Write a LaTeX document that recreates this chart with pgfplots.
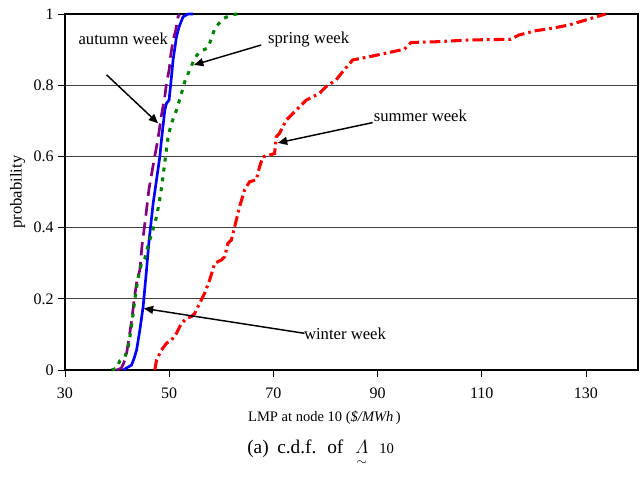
\documentclass[border=0pt]{standalone}
\usepackage{amsmath}
\usepackage{fontspec}
\setmainfont{Liberation Serif}
\usepackage{pgfplots}
\pgfplotsset{compat=1.18}
\usetikzlibrary{arrows.meta}

\definecolor{winterc}{RGB}{0,0,255}
\definecolor{autumnc}{RGB}{128,0,128}
\definecolor{springc}{RGB}{0,128,0}
\definecolor{summerc}{RGB}{255,0,0}

\begin{document}
\begin{tikzpicture}[font=\fontsize{12}{14}\selectfont,
  note/.style={-{Triangle[length=7pt,width=6pt]}, line width=1.1pt, black},
  lab/.style={font=\fontsize{12.5}{15}\selectfont}]
\begin{axis}[
    scale only axis,
    width=429.75pt, height=267pt,
    xmin=30, xmax=140, ymin=0, ymax=1,
    xtick={30,50,70,90,110,130},
    ytick={0,0.2,0.4,0.6,0.8,1},
    tick pos=left, tick align=outside,
    major tick length=5pt,
    tick style={black, line width=0.6pt},
    ymajorgrids, grid style={black!75, line width=0.6pt},
    axis line style={black, line width=1.3pt},
    /pgf/number format/assume math mode=true,
    xticklabel style={yshift=-5pt},
    clip=false,
]
\coordinate (sw) at (rel axis cs:0,0);
\coordinate (ne) at (rel axis cs:1,1);

% winter week
\addplot[winterc, line width=2pt] coordinates {
 (41.17,0) (42.78,0.014) (43.28,0.033) (43.74,0.056) (44.37,0.112)
 (45.0,0.178) (45.65,0.281) (46.15,0.365) (46.92,0.468) (47.57,0.534)
 (48.2,0.599) (48.52,0.646) (49.16,0.73) (49.48,0.749) (49.98,0.758)
 (50.44,0.824) (50.75,0.871) (51.4,0.936) (51.9,0.964) (52.66,0.992)
 (53.62,1.0) (54.58,1.0)};

% autumn week
\addplot[autumnc, line width=2pt, dash pattern=on 10pt off 5pt] coordinates {
 (39.9,0) (40.8,0.005) (41.3,0.02) (41.8,0.045) (42.3,0.09) (42.8,0.14)
 (43.3,0.2) (43.8,0.25) (44.37,0.281) (44.8,0.351) (45.46,0.426)
 (46.1,0.506) (46.6,0.548) (47.1,0.59) (47.87,0.651) (48.52,0.716)
 (49.16,0.768) (49.48,0.805) (50.0,0.843) (50.25,0.88) (50.75,0.927)
 (51.26,0.955) (51.7,0.992) (52.03,1.0)};

% spring week
\addplot[springc, line width=2.3pt, dash pattern=on 3pt off 4.5pt] coordinates {
 (38.95,0) (39.9,0.005) (40.54,0.026) (41.5,0.037) (42.13,0.065)
 (42.78,0.122) (43.41,0.2) (44.04,0.26) (44.7,0.3) (45.33,0.314)
 (45.96,0.351) (46.72,0.386) (47.38,0.419) (48.0,0.463) (48.39,0.498)
 (48.83,0.545) (49.3,0.6) (49.79,0.655) (50.44,0.693) (51.4,0.73)
 (52.36,0.777) (52.99,0.81) (53.95,0.843) (54.9,0.876) (55.86,0.894)
 (57.45,0.905) (58.1,0.931) (58.74,0.959) (60.33,0.987) (62.24,0.999)
 (63.52,1.0)};

% summer week
\addplot[summerc, line width=2.3pt, dash pattern=on 8pt off 3pt on 2pt off 3pt] coordinates {
 (47.24,0) (47.57,0.028) (48.52,0.056) (49.48,0.075) (50.44,0.084)
 (51.4,0.103) (52.36,0.131) (53.32,0.145) (54.27,0.15) (54.9,0.159)
 (55.86,0.188) (56.82,0.216) (57.78,0.253) (58.74,0.3) (60.02,0.309)
 (60.65,0.318) (61.28,0.356) (61.93,0.365) (62.89,0.421) (63.52,0.459)
 (64.48,0.506) (65.44,0.529) (66.72,0.534) (67.36,0.571) (67.99,0.599)
 (69.27,0.604) (70.23,0.608) (70.56,0.655) (71.19,0.665) (72.47,0.702)
 (73.1,0.711) (74.39,0.73) (76.3,0.758) (78.85,0.777) (80.13,0.796)
 (82.05,0.815) (83.31,0.838) (85.23,0.871) (88.43,0.88) (91.63,0.89)
 (95.13,0.901) (96.42,0.92) (101.21,0.922) (107.59,0.927) (115.57,0.929)
 (117.16,0.941) (120.36,0.953) (123.54,0.96) (126.74,0.969) (129.94,0.983)
 (133.77,1.0)};

% annotations
\node[lab, anchor=base] at (axis cs:41.17,0.913) {autumn week};
\draw[note] (axis cs:37.99,0.829) -- (axis cs:47.87,0.693);
\node[lab, anchor=base west, inner sep=0pt] at (axis cs:68.95,0.918) {spring week};
\draw[note] (axis cs:67.68,0.913) -- (axis cs:54.77,0.857);
\node[lab, anchor=base west, inner sep=0pt] at (axis cs:89.25,0.697) {summer week};
\draw[note] (axis cs:89.06,0.695) -- (axis cs:70.86,0.638);
\node[lab, anchor=base west, inner sep=0pt] at (axis cs:75.84,0.087) {winter week};
\draw[note] (axis cs:75.98,0.103) -- (axis cs:45.13,0.173);
\end{axis}

\node[anchor=base, font=\fontsize{10.9}{13}\selectfont] at ([shift={(194.6pt,-38.8pt)}]sw) {LMP at node 10 (\textit{\$/MWh}\,)};
\begin{scope}[font=\fontsize{14.5}{17}\selectfont, every node/.style={anchor=base west, inner sep=0pt}]
\node at ([shift={(136.5pt,-63pt)}]sw) {(a)};
\node at ([shift={(159pt,-63pt)}]sw) {c.d.f.};
\node at ([shift={(196.5pt,-63pt)}]sw) {of};
\node at ([shift={(217.5pt,-63pt)}]sw) {$\underset{\sim}{\varLambda}$};
\node[font=\fontsize{11}{13}\selectfont] at ([shift={(235.5pt,-63pt)}]sw) {10};
\end{scope}
\node[lab, rotate=90, anchor=center] at ([shift={(-35.6pt,133.5pt)}]sw) {probability};

\pgfresetboundingbox
\path ([shift={(-48.75pt,-81.75pt)}]sw) rectangle ([shift={(1.5pt,10.5pt)}]ne);
\end{tikzpicture}
\end{document}
